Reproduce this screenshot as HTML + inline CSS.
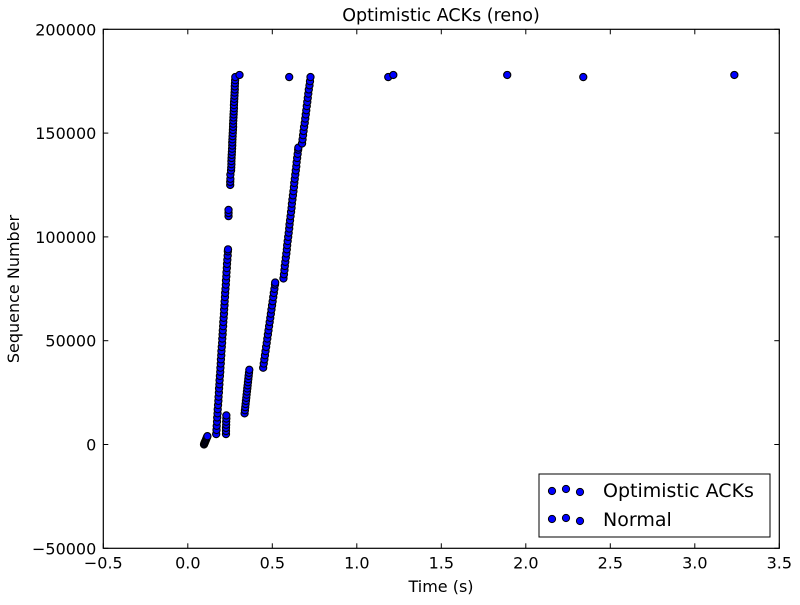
<!DOCTYPE html>
<html><head><meta charset="utf-8"><style>
body{margin:0;background:#fff;}
svg text{font-family:"DejaVu Sans","Liberation Sans",sans-serif;fill:#000;}
</style></head><body>
<svg id="chart" width="800" height="600" xmlns="http://www.w3.org/2000/svg">
<rect x="0" y="0" width="800" height="600" fill="#fff"/>
<text x="441" y="21" font-size="17.5" text-anchor="middle">Optimistic ACKs (reno)</text>
<text x="441" y="592" font-size="16" text-anchor="middle">Time (s)</text>
<text x="19" y="289" font-size="16" text-anchor="middle" transform="rotate(-90 19 289)">Sequence Number</text>
<g id="ticks"></g>
<g id="marks"></g>
<rect x="103.3" y="29.3" width="676" height="519" fill="none" stroke="#000" stroke-width="1.2"/>
<g>
<rect x="539" y="474" width="231" height="63" fill="#fff" stroke="#000" stroke-width="1"/>
<g id="legmarks"></g>
<text x="603" y="497" font-size="19">Optimistic ACKs</text>
<text x="603" y="526" font-size="19">Normal</text>
</g>
</svg>
<script>
const xTicks=[-0.5,0,0.5,1,1.5,2,2.5,3,3.5];
const xTickLabels=["\u22120.5","0.0","0.5","1.0","1.5","2.0","2.5","3.0","3.5"];
const yTicks=[-50000,0,50000,100000,150000,200000];
const yTickLabels=["\u221250000","0","50000","100000","150000","200000"];
const optTime=[0.096,0.098,0.101,0.103,0.106,0.108,0.111,0.113,0.116,
0.168,0.170,0.171,0.173,0.174,0.176,0.177,0.179,0.181,0.182,0.184,0.185,0.187,0.188,0.190,0.192,0.193,0.195,0.196,0.198,0.199,0.201,0.203,0.204,0.206,0.207,0.209,0.210,0.212,0.214,0.215,0.217,0.218,0.220,0.221,0.223,0.225,0.226,0.228,0.229,0.231,0.232,0.234,0.236,0.237,0.238,
0.226,0.226,0.226,0.227,0.227,0.228,0.228,
0.241,0.241,0.241,
0.251,0.251,0.252,0.252,
0.256,0.257,0.258,0.258,0.259,0.260,0.261,0.262,0.263,0.263,0.264,0.265,0.266,0.267,0.268,0.268,0.269,0.270,0.271,0.272,0.273,0.273,0.274,0.275,0.276,0.277,0.278,0.278,0.279,0.280,0.281,
0.306];
const optSeq=[0,500,1000,1500,2000,2500,3000,3500,4000,
5000,7000,9000,11000,13000,15000,17000,19000,21000,23000,25000,27000,29000,31000,33000,35000,37000,39000,41000,43000,45000,47000,49000,51000,53000,55000,57000,59000,61000,63000,65000,67000,69000,71000,73000,75000,77000,79000,81000,83000,85000,87000,89000,91000,93000,94000,
5000,6500,8000,9500,11000,12500,14000,
110000,111500,113000,
125000,126500,128000,130000,
132000,133500,135000,136500,138000,139500,141000,142500,144000,145500,147000,148500,150000,151500,153000,154500,156000,157500,159000,160500,162000,163500,165000,166500,168000,169500,171000,172500,174000,175500,177000,
178000];
const normTime=[0.336,0.338,0.340,0.342,0.344,0.346,0.348,0.350,0.352,0.354,0.356,0.358,0.360,0.362,0.364,
0.446,0.4495,0.453,0.4565,0.460,0.4635,0.467,0.4705,0.474,0.4775,0.481,0.4845,0.488,0.4915,0.495,0.4985,0.502,0.5055,0.509,0.5125,0.516,0.517,
0.566,0.569,0.572,0.574,0.577,0.580,0.583,0.586,0.588,0.591,0.594,0.597,0.600,0.602,0.605,0.608,0.611,0.614,0.616,0.619,0.622,0.625,0.628,0.630,0.633,0.636,0.639,0.642,0.644,0.647,0.650,0.653,0.654,
0.676,0.679,0.682,0.685,0.688,0.692,0.695,0.698,0.701,0.704,0.707,0.710,0.713,0.716,0.720,0.723,0.726,
0.60,1.186,1.216,1.89,2.34,3.234];
const normSeq=[15000,16500,18000,19500,21000,22500,24000,25500,27000,28500,30000,31500,33000,34500,36000,
37000,39000,41000,43000,45000,47000,49000,51000,53000,55000,57000,59000,61000,63000,65000,67000,69000,71000,73000,75000,77000,78000,
80000,82000,84000,86000,88000,90000,92000,94000,96000,98000,100000,102000,104000,106000,108000,110000,112000,114000,116000,118000,120000,122000,124000,126000,128000,130000,132000,134000,136000,138000,140000,142000,143000,
145000,147000,149000,151000,153000,155000,157000,159000,161000,163000,165000,167000,169000,171000,173000,175000,177000,
177000,177000,178000,178000,177000,178000];

const L=103.3,R=779.3,T=29.3,B=548.3;
const xScale=v=>L+(v-(-0.5))/(3.5-(-0.5))*(R-L);
const yScale=v=>B-(v-(-50000))/(200000-(-50000))*(B-T);
const NS="http://www.w3.org/2000/svg";
const tg=document.getElementById('ticks');
function mk(tag,attrs,parent){const e=document.createElementNS(NS,tag);for(const k in attrs)e.setAttribute(k,attrs[k]);parent.appendChild(e);return e;}
xTicks.forEach((v,i)=>{
  const x=xScale(v);
  const t1=mk('line',{x1:x,x2:x,y1:B,y2:B-5,stroke:'#000'},tg);
  
  
  const t2=mk('line',{x1:x,x2:x,y1:T,y2:T+5,stroke:'#000'},tg);
  
  
  const lb=mk('text',{x:x,y:B+20,'font-size':16,'text-anchor':'middle'},tg);
  lb.textContent=xTickLabels[i];
  
  
});
yTicks.forEach((v,i)=>{
  const y=yScale(v);
  const t1=mk('line',{x1:L,x2:L+5,y1:y,y2:y,stroke:'#000'},tg);
  
  
  const t2=mk('line',{x1:R,x2:R-5,y1:y,y2:y,stroke:'#000'},tg);
  
  
  const lb=mk('text',{x:L-7,y:y+6,'font-size':16,'text-anchor':'end'},tg);
  lb.textContent=yTickLabels[i];
  
  
});
const mg=document.getElementById('marks');
function drawSeries(ts,ss,name){
  ts.forEach((t,i)=>{
    const c=mk('circle',{cx:xScale(t),cy:yScale(ss[i]),r:3.6,fill:'#0000ff',stroke:'#000','stroke-width':1.1},mg);
    
    
  });
}
drawSeries(optTime,optSeq,'optimistic-ack-point');
drawSeries(normTime,normSeq,'normal-point');
const lg=document.getElementById('legmarks');
[[552,491],[566,489],[580,492],[552,519],[566,518],[580,521]].forEach((p,i)=>{
  const c=mk('circle',{cx:p[0],cy:p[1],r:3.6,fill:'#0000ff',stroke:'#000','stroke-width':1},lg);
  
  
});
</script>
</body></html>
